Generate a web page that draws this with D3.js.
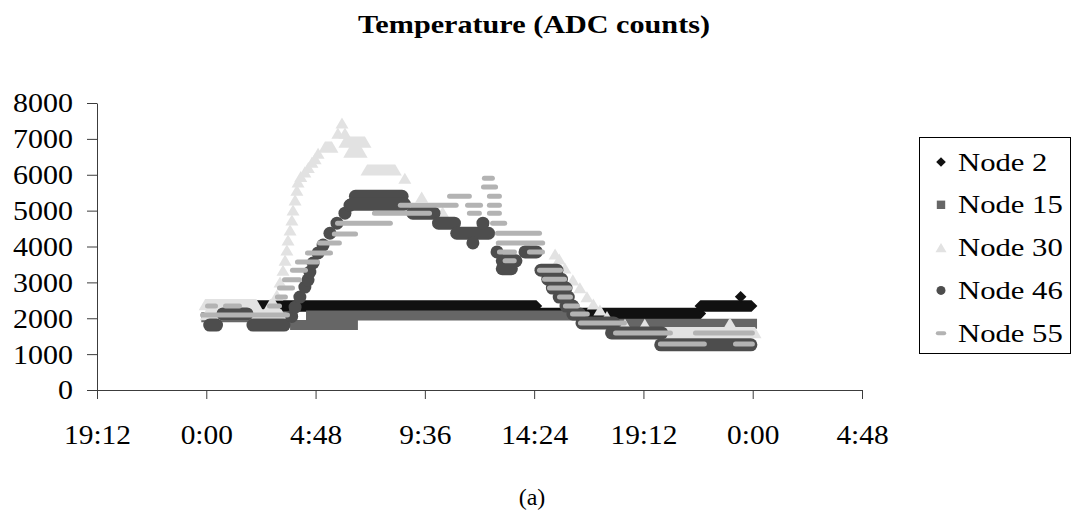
<!DOCTYPE html>
<html>
<head>
<meta charset="utf-8">
<script src="https://cdn.jsdelivr.net/npm/d3@7"></script>
<style>
  body { margin: 0; background: #fff; }
  text { font-family: 'Liberation Serif', 'Times New Roman', serif; fill: #000; }
</style>
</head>
<body>
<div id="chart"></div>
<script>
// tick labels of the time axis (hours from midnight, 4:48 apart)
const xTicks = [-4.8, 0, 4.8, 9.6, 14.4, 19.2, 24, 28.8]
const xTickLabels = ['19:12', '0:00', '4:48', '9:36', '14:24', '19:12', '0:00', '4:48']
const yTicks = [0, 1000, 2000, 3000, 4000, 5000, 6000, 7000, 8000]

const seriesNames = ['Node 2', 'Node 15', 'Node 30', 'Node 46', 'Node 55']

// readings as runs at one level: [hour start, hour end, ADC counts]
const node2 = [
  [0.1, 14.5, 2340], [14.5, 21.7, 2130], [21.7, 23.95, 2340], [23.47, 23.47, 2600]
]
const node15 = [
  [0.0, 3.6, 2030], [3.9, 6.44, 1810], [4.6, 16.3, 2080], [16.94, 23.97, 1850]
]
const node30 = [
  [-0.05, 2.2, 2380], [2.8, 3.0, 2380], [0.0, 3.3, 2100],
  [3.10, 3.10, 2650], [3.24, 3.24, 3010], [3.37, 3.37, 3340], [3.46, 3.46, 3620],
  [3.54, 3.54, 3900], [3.59, 3.59, 4180], [3.68, 3.68, 4460], [3.76, 3.76, 4740],
  [3.81, 3.81, 5020], [3.90, 3.90, 5300], [3.98, 3.98, 5570], [4.03, 4.03, 5800],
  [4.15, 4.15, 5950], [4.33, 4.33, 6080], [4.48, 4.48, 6200], [4.64, 4.64, 6350],
  [4.78, 4.78, 6450], [4.91, 4.91, 6600], [5.21, 5.52, 6770],
  [5.78, 5.78, 7160], [5.96, 5.96, 7440], [6.09, 6.09, 7160], [6.09, 6.97, 6910],
  [6.3, 6.8, 6630], [7.06, 8.3, 6130], [8.72, 8.72, 5900], [9.46, 9.46, 5380],
  [10.38, 10.38, 4960],
  [14.08, 14.08, 4010], [15.32, 15.32, 3790], [15.5, 15.5, 3650], [15.75, 15.75, 3400],
  [16.1, 16.1, 3070], [16.41, 16.41, 2850], [16.72, 16.72, 2600], [17.0, 17.0, 2400],
  [17.29, 17.29, 2230], [17.6, 17.6, 2050],
  [17.9, 24.1, 1600], [18.39, 18.39, 1830], [19.26, 19.26, 1830], [23.0, 23.0, 1870]
]
const node46 = [
  [0.15, 0.45, 1810], [0.73, 1.79, 2120], [2.05, 3.42, 1810], [3.75, 3.75, 2050],
  [3.90, 3.90, 2310], [4.11, 4.11, 2590], [4.33, 4.33, 2870], [4.47, 4.47, 3070],
  [4.55, 4.55, 3290], [4.69, 4.69, 3540], [4.91, 4.91, 3820], [5.13, 5.13, 4040],
  [5.43, 5.43, 4370], [5.74, 5.74, 4650], [6.09, 6.09, 4930], [6.31, 6.31, 5150],
  [6.55, 8.6, 5400], [6.4, 8.7, 5180], [9.07, 10.0, 4930], [10.2, 10.9, 4650],
  [11.0, 12.4, 4370], [11.71, 11.71, 4100], [12.15, 12.15, 4650],
  [12.77, 12.77, 3850], [13.0, 13.6, 3600], [13.0, 13.4, 3380], [14.0, 14.5, 3850],
  [14.7, 15.4, 3340], [15.0, 15.6, 3090], [15.2, 15.8, 2840], [15.5, 15.9, 2590],
  [15.8, 16.1, 2340], [16.1, 16.4, 2120], [16.5, 17.9, 1870], [17.8, 20.0, 1590],
  [19.96, 23.92, 1260]
]
const node55 = [
  [0.23, 0.23, 2340], [1.02, 1.28, 2340], [2.95, 3.04, 2340], [0.01, 3.39, 2090],
  [3.30, 3.30, 2590], [3.39, 3.61, 2840], [3.61, 3.92, 3070], [3.96, 4.18, 3340],
  [4.18, 4.71, 3570], [4.62, 5.28, 3820], [5.15, 5.67, 4100], [5.8, 6.38, 4350],
  [5.94, 7.91, 4650], [7.56, 9.63, 4930], [8.7, 10.8, 5150], [10.86, 11.38, 5400],
  [11.65, 11.87, 5150], [11.73, 11.82, 4930], [12.39, 12.39, 5900], [12.35, 12.53, 5660],
  [12.61, 12.7, 5400], [12.61, 12.7, 5150], [12.61, 12.7, 4930], [12.75, 12.93, 4650],
  [12.96, 14.46, 4370], [13.0, 14.6, 4100], [13.05, 13.36, 3850], [13.3, 13.35, 3600],
  [14.37, 14.59, 3850],
  [14.81, 15.38, 3340], [15.03, 15.56, 3090], [15.25, 15.78, 2840], [15.69, 15.82, 2590],
  [15.95, 16.13, 2340], [16.26, 16.56, 2120], [16.61, 18.19, 1870], [18.15, 20.21, 1590],
  [21.66, 23.81, 1590], [20.12, 21.7, 1280], [23.42, 23.81, 1280]
]

document.addEventListener('DOMContentLoaded', function () {
  const width = 1072
  const height = 516
  const plot = { left: 97, right: 862, top: 103, bottom: 390 }

  const svg = d3.select('#chart')
    .append('svg')
    .attr('width', width)
    .attr('height', height)

  const x = d3.scaleLinear().domain([-4.8, 28.8]).range([plot.left, plot.right])
  const y = d3.scaleLinear().domain([0, 8000]).range([plot.bottom, plot.top])

  // stretch text horizontally like the original figure
  function stretch (sel, k) {
    sel.each(function () {
      const w = this.getComputedTextLength()
      d3.select(this).attr('textLength', w * k).attr('lengthAdjust', 'spacingAndGlyphs')
    })
  }

  // title
  svg.append('text')
    .attr('x', 534)
    .attr('y', 33)
    .attr('text-anchor', 'middle')
    .style('font-size', '26px')
    .style('font-weight', 'bold')
    .text('Temperature (ADC counts)')
    .attr('textLength', 352)
    .attr('lengthAdjust', 'spacingAndGlyphs')

  // axes
  const xAxis = svg.append('g')
    .attr('transform', `translate(0,${plot.bottom})`)
    .call(d3.axisBottom(x).tickValues(xTicks).tickSize(9).tickSizeOuter(0).tickPadding(25)
      .tickFormat((d, i) => xTickLabels[i]))
  const yAxis = svg.append('g')
    .attr('transform', `translate(${plot.left},0)`)
    .call(d3.axisLeft(y).tickValues(yTicks).tickSize(10).tickSizeOuter(0).tickPadding(14)
      .tickFormat(d3.format('d')))

  ;[xAxis, yAxis].forEach(a => {
    a.attr('font-family', null).attr('font-size', null)
    a.selectAll('path, line').attr('stroke', '#3c3c3c').attr('stroke-width', 1)
    a.selectAll('text').style('font-size', '28px').attr('fill', '#000')
  })
  stretch(xAxis.selectAll('text'), 1.05)
  stretch(yAxis.selectAll('text'), 1.07)

  // marker shapes, stretched along a run of equal readings
  function capsule (a, b, c, r) {
    return `M${a},${c - r}L${b},${c - r}A${r},${r} 0 0 1 ${b},${c + r}L${a},${c + r}A${r},${r} 0 0 1 ${a},${c - r}Z`
  }
  const shapes = {
    diamond: (a, b, c, s) => `M${a - s},${c}L${a},${c - s}L${b},${c - s}L${b + s},${c}L${b},${c + s}L${a},${c + s}Z`,
    square: (a, b, c, s) => `M${a - s},${c - s}L${b + s},${c - s}L${b + s},${c + s}L${a - s},${c + s}Z`,
    triangle: (a, b, c, s) => `M${a - s},${c + s * 0.85}L${a},${c - s * 0.85}L${b},${c - s * 0.85}L${b + s},${c + s * 0.85}Z`,
    circle: (a, b, c, s) => capsule(a, b, c, s),
    dash: (a, b, c, s) => capsule(a - s * 1.6, b + s * 1.6, c, s)
  }

  const series = [
    { name: seriesNames[0], runs: node2, shape: 'diamond', color: '#111111', size: 5.8, legendSize: 4.8 },
    { name: seriesNames[1], runs: node15, shape: 'square', color: '#666666', size: 5, legendSize: 4.2 },
    { name: seriesNames[2], runs: node30, shape: 'triangle', color: '#e2e2e2', size: 6.5, legendSize: 5.5 },
    { name: seriesNames[3], runs: node46, shape: 'circle', color: '#4d4d4d', size: 6.5, legendSize: 4.5 },
    { name: seriesNames[4], runs: node55, shape: 'dash', color: '#b3b3b3', size: 2.5, legendSize: 2 }
  ]

  series.forEach(s => {
    svg.append('g')
      .selectAll('path')
      .data(s.runs)
      .enter()
      .append('path')
      .attr('d', d => shapes[s.shape](x(d[0]), x(d[1]), y(d[2]), s.size))
      .attr('fill', s.color)
  })

  // legend
  const legend = svg.append('g').attr('transform', 'translate(919,137)')
  legend.append('rect')
    .attr('x', 0.5)
    .attr('y', 0.5)
    .attr('width', 151)
    .attr('height', 216)
    .attr('fill', '#fff')
    .attr('stroke', '#000')

  const item = legend.selectAll('g.item')
    .data(series)
    .enter()
    .append('g')
    .attr('class', 'item')
    .attr('transform', (d, i) => `translate(0,${25 + i * 42.8})`)
  item.append('path')
    .attr('d', d => shapes[d.shape](22, 22, 0, d.legendSize))
    .attr('fill', d => d.color)
  item.append('text')
    .attr('x', 39)
    .attr('y', 8.5)
    .style('font-size', '26px')
    .text(d => d.name)
  stretch(item.selectAll('text'), 1.18)

  svg.append('text')
    .attr('x', 532)
    .attr('y', 505)
    .attr('text-anchor', 'middle')
    .style('font-size', '24px')
    .text('(a)')
})
</script>
</body>
</html>
